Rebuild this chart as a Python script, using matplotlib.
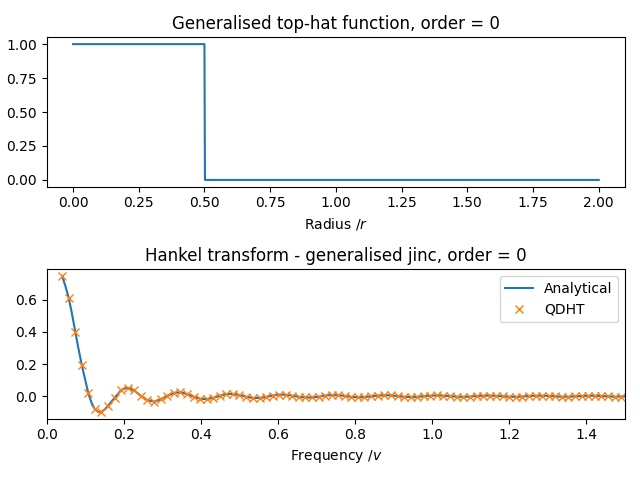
import matplotlib
matplotlib.use('Agg')
import matplotlib.pyplot as plt

# Top-hat input (radius, value)
radius = [0.0, 0.5, 0.502, 2.0]
tophat = [1.0, 1.0, 0.0, 0.0]

# QDHT samples
qdht_v = [0.040, 0.057, 0.074, 0.091, 0.108, 0.125, 0.142, 0.159, 0.176, 0.193,
          0.210, 0.227, 0.244, 0.261, 0.279, 0.296, 0.313, 0.330, 0.347, 0.364,
          0.381, 0.398, 0.415, 0.432, 0.449, 0.466, 0.483, 0.500, 0.517, 0.534,
          0.552, 0.569, 0.586, 0.603, 0.620, 0.637, 0.654, 0.671, 0.688, 0.705,
          0.722, 0.739, 0.756, 0.773, 0.790, 0.807, 0.824, 0.842, 0.859, 0.876,
          0.893, 0.910, 0.927, 0.944, 0.961, 0.978, 0.995, 1.012, 1.029, 1.046,
          1.063, 1.080, 1.097, 1.115, 1.132, 1.149, 1.166, 1.183, 1.200, 1.217,
          1.234, 1.251, 1.268, 1.285, 1.302, 1.319, 1.336, 1.353, 1.370, 1.388,
          1.405, 1.422, 1.439, 1.456, 1.473, 1.490]
qdht_y = [0.748, 0.613, 0.403, 0.194, 0.017, -0.082, -0.098, -0.061, -0.011, 0.038,
          0.052, 0.036, 0.002, -0.024, -0.034, -0.020, 0.003, 0.021, 0.024, 0.014,
          -0.003, -0.016, -0.018, -0.010, 0.003, 0.013, 0.014, 0.007, -0.003, -0.011,
          -0.011, -0.005, 0.004, 0.010, 0.009, 0.003, -0.004, -0.008, -0.008, -0.003,
          0.004, 0.007, 0.006, 0.002, -0.004, -0.007, -0.005, -0.001, 0.004, 0.006,
          0.005, 0.001, -0.004, -0.005, -0.004, 0.000, 0.003, 0.005, 0.003, 0.000,
          -0.003, -0.004, -0.003, 0.001, 0.003, 0.004, 0.002, -0.001, -0.003, -0.004,
          -0.002, 0.001, 0.003, 0.003, 0.002, -0.001, -0.003, -0.003, -0.001, 0.001,
          0.003, 0.003, 0.001, -0.001, -0.003, -0.002]

# Analytical curve: denser through the first lobe, then the same grid
analytic_v = [0.040, 0.048, 0.057, 0.065, 0.074, 0.082, 0.091, 0.100, 0.108, 0.117,
              0.125, 0.133, 0.142, 0.150, 0.159, 0.167, 0.176, 0.185, 0.193, 0.202,
              0.210] + qdht_v[11:] + [1.507]
analytic_y = [0.748, 0.690, 0.613, 0.520, 0.403, 0.300, 0.194, 0.100, 0.017, -0.045,
              -0.082, -0.097, -0.098, -0.083, -0.061, -0.036, -0.011, 0.015, 0.038, 0.048,
              0.052] + qdht_y[11:] + [-0.001]

fig = plt.figure(figsize=(6.4, 4.8), dpi=100)

plt.subplot(2, 1, 1)
plt.plot(radius, tophat)
plt.title("Generalised top-hat function, order = 0")
plt.xlabel("Radius /$r$")

plt.subplot(2, 1, 2)
plt.plot(analytic_v, analytic_y, label="Analytical")
plt.plot(qdht_v, qdht_y, 'x', label="QDHT")
plt.xlim([0, 1.5])
plt.title("Hankel transform - generalised jinc, order = 0")
plt.xlabel("Frequency /$v$")
plt.legend()

plt.tight_layout()
plt.savefig("out.png")
